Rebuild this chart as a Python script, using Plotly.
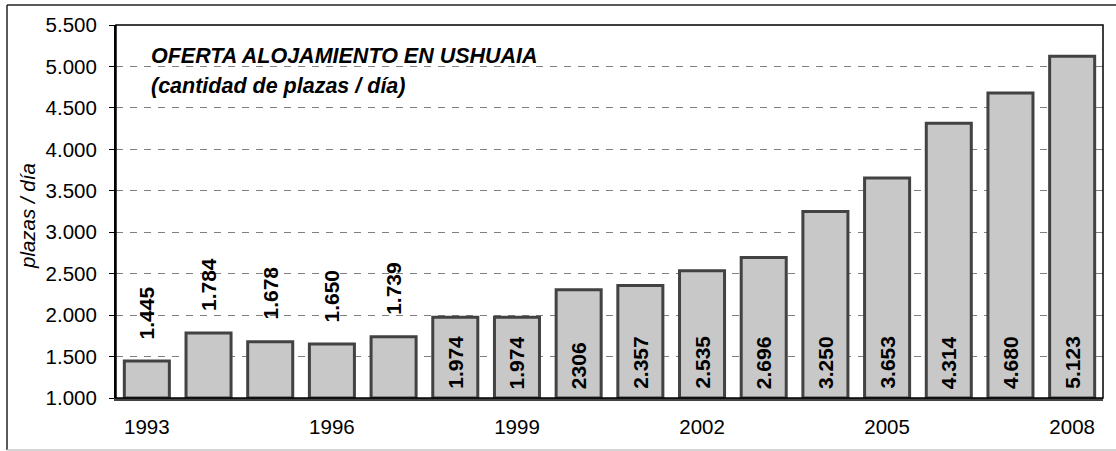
import plotly.graph_objects as go

years = list(range(1993, 2009))
plazas = [1445, 1784, 1678, 1650, 1739, 1974, 1974, 2306, 2357, 2535, 2696, 3250, 3653, 4314, 4680, 5123]
labels = ["1.445", "1.784", "1.678", "1.650", "1.739", "1.974", "1.974", "2306", "2.357",
          "2.535", "2.696", "3.250", "3.653", "4.314", "4.680", "5.123"]
outside = [True] * 5 + [False] * 11
x_ticks = [1993, 1996, 1999, 2002, 2005, 2008]
y_ticks = [1000, 1500, 2000, 2500, 3000, 3500, 4000, 4500, 5000, 5500]
y_ticklabels = ["1.000", "1.500", "2.000", "2.500", "3.000", "3.500", "4.000", "4.500", "5.000", "5.500"]
y_base = 1000

FONT = "Liberation Sans, Arial, sans-serif"
L, R, T, B = 116, 13, 25, 53
W, H = 1116, 451
PW, PH = W - L - R, H - T - B


def px_x(px):
    return (px - L) / PW


def px_y(py):
    return (H - B - py) / PH


fig = go.Figure()
fig.add_trace(go.Bar(
    x=years, y=[v - y_base for v in plazas],
    base=y_base,
    marker=dict(color="#c8c8c8", line=dict(color="#424242", width=3)),
    customdata=plazas,
    hovertemplate="%{x}: %{customdata}<extra></extra>",
))

annotations = []
for yr, v, lab, out in zip(years, plazas, labels, outside):
    if out:
        annotations.append(dict(x=yr, y=v, text=f"<b>{lab}</b>", textangle=-90,
                                showarrow=False, yanchor="bottom", yshift=20,
                                font=dict(family=FONT, size=21, color="black")))
    else:
        annotations.append(dict(x=yr, y=y_base, text=f"<b>{lab}</b>", textangle=-90,
                                showarrow=False, yanchor="bottom", yshift=7,
                                font=dict(family=FONT, size=21, color="black")))

annotations.append(dict(xref="paper", yref="paper", x=px_x(149), y=px_y(56), xanchor="left", yanchor="middle",
                        text="<b><i>OFERTA ALOJAMIENTO EN USHUAIA</i></b>", showarrow=False,
                        font=dict(family=FONT, size=21.5, color="black")))
annotations.append(dict(xref="paper", yref="paper", x=px_x(149), y=px_y(86), xanchor="left", yanchor="middle",
                        text="<b><i>(cantidad de plazas / día)</i></b>", showarrow=False,
                        font=dict(family=FONT, size=21.5, color="black")))
annotations.append(dict(xref="paper", yref="paper", x=px_x(27), y=px_y(216), xanchor="center", yanchor="middle",
                        text="<i>plazas / día</i>", textangle=-90, showarrow=False,
                        font=dict(family=FONT, size=20.5, color="black")))

shapes = [
    dict(type="rect", xref="paper", yref="paper", x0=0, x1=1, y0=0, y1=1,
         line=dict(color="black", width=1.5), layer="above"),
    dict(type="line", xref="paper", yref="paper", x0=px_x(7), x1=px_x(1120),
         y0=px_y(5), y1=px_y(5), line=dict(color="#222222", width=1.5)),
    dict(type="line", xref="paper", yref="paper", x0=px_x(7), x1=px_x(7),
         y0=px_y(5), y1=px_y(450), line=dict(color="#222222", width=1.5)),
    dict(type="line", xref="paper", yref="paper", x0=px_x(7), x1=px_x(1120),
         y0=px_y(450), y1=px_y(450), line=dict(color="#c8c8c8", width=1.5)),
]

fig.update_layout(
    width=W, height=H,
    autosize=False,
    margin=dict(l=L, r=R, t=T, b=B, pad=0),
    paper_bgcolor="white", plot_bgcolor="white",
    bargap=0.27,
    showlegend=False,
    font=dict(family=FONT, size=20.5, color="black"),
    annotations=annotations,
    shapes=shapes,
    xaxis=dict(
        range=[1992.5, 2008.5],
        tickmode="array", tickvals=x_ticks, ticktext=[str(t) for t in x_ticks],
        showgrid=False, zeroline=False, automargin=False,
        showline=True, linecolor="#424242", linewidth=3,
        ticks="outside", ticklen=8, tickcolor="rgba(0,0,0,0)",
        tickfont=dict(family=FONT, size=20.5, color="black"),
    ),
    yaxis=dict(
        range=[1000, 5500],
        tickmode="array", tickvals=y_ticks, ticktext=y_ticklabels,
        showgrid=True, gridcolor="#808080", gridwidth=1, griddash="7px,7px",
        zeroline=False, automargin=False,
        showline=True, linecolor="black", linewidth=2,
        ticks="outside", ticklen=5, tickcolor="black",
        ticklabelstandoff=8,
        tickfont=dict(family=FONT, size=20.5, color="black"),
    ),
)

post = (
    "document.documentElement.style.margin='0';"
    "document.documentElement.style.overflow='hidden';"
    "document.documentElement.style.height='451px';"
    "document.body.style.margin='0';"
    "document.body.style.padding='0';"
    "document.body.style.overflow='hidden';"
    "document.body.style.height='451px';"
)

fig.write_html("out.html", config={"displayModeBar": False, "responsive": False}, post_script=post)
